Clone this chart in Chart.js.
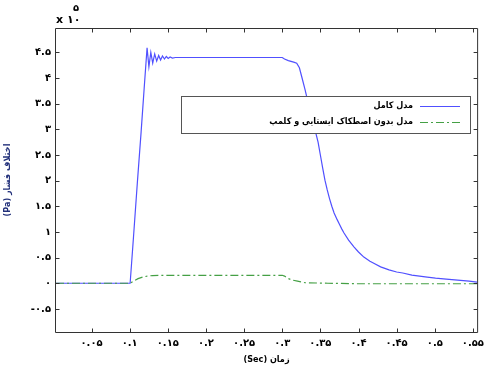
<!DOCTYPE html>
<html><head><meta charset="utf-8">
<script src="https://cdn.jsdelivr.net/npm/chart.js@4.4.0/dist/chart.umd.min.js"></script>
<style>html,body{margin:0;padding:0;background:#fff;} canvas{display:block;}</style>
</head><body>
<canvas id="c" width="489" height="368"></canvas>
<script>
// ---- data (pressure difference, x 10^5 Pa, vs time in s) ----
const blueX = [0.0034, 0.1, 0.1006, 0.105, 0.110, 0.115, 0.119, 0.1228, 0.1252, 0.1277, 0.1302, 0.1328, 0.1354, 0.138, 0.1405, 0.143, 0.1456, 0.148, 0.1505, 0.153, 0.156, 0.16, 0.20, 0.25, 0.30, 0.303, 0.308, 0.315, 0.319, 0.3225, 0.326, 0.330, 0.333, 0.336, 0.340, 0.343, 0.347, 0.350, 0.353, 0.356, 0.359, 0.362, 0.365, 0.368, 0.372, 0.375, 0.378, 0.381, 0.387, 0.394, 0.400, 0.407, 0.415, 0.42, 0.429, 0.44, 0.45, 0.458, 0.47, 0.48, 0.49, 0.501, 0.515, 0.53, 0.545, 0.5555];
const blueY = [0, 0, 0, 0.9, 1.95, 2.95, 3.8, 4.59, 4.22, 4.50, 4.29, 4.47, 4.33, 4.44, 4.35, 4.43, 4.37, 4.42, 4.38, 4.41, 4.39, 4.40, 4.40, 4.40, 4.40, 4.37, 4.34, 4.31, 4.29, 4.2, 4.0, 3.77, 3.58, 3.38, 3.15, 2.99, 2.75, 2.5, 2.25, 2.01, 1.82, 1.65, 1.5, 1.37, 1.24, 1.15, 1.06, 0.98, 0.84, 0.71, 0.61, 0.51, 0.43, 0.39, 0.32, 0.26, 0.22, 0.2, 0.16, 0.14, 0.12, 0.1, 0.08, 0.06, 0.04, 0.02];
const greenX = [0.0034, 0.1, 0.1006, 0.106, 0.111, 0.117, 0.123, 0.13, 0.14, 0.30, 0.303, 0.308, 0.314, 0.32, 0.33, 0.36, 0.40, 0.5555];
const greenY = [0, 0, 0, 0.05, 0.09, 0.12, 0.14, 0.15, 0.155, 0.155, 0.14, 0.09, 0.06, 0.04, 0.01, 0.0, -0.01, -0.01];
const seriesNames = ['مدل کامل', 'مدل بدون اصطکاک ایستایی و کلمپ'];
const xTicks = [0.05, 0.1, 0.15, 0.2, 0.25, 0.3, 0.35, 0.4, 0.45, 0.5, 0.55];
const xTickLabels = ['۰.۰۵', '۰.۱', '۰.۱۵', '۰.۲', '۰.۲۵', '۰.۳', '۰.۳۵', '۰.۴', '۰.۴۵', '۰.۵', '۰.۵۵'];
const yTicks = [-0.5, 0, 0.5, 1, 1.5, 2, 2.5, 3, 3.5, 4, 4.5];
const yTickLabels = ['-۰.۵', '۰', '۰.۵', '۱', '۱.۵', '۲', '۲.۵', '۳', '۳.۵', '۴', '۴.۵'];
const xTitle = '\u202Bزمان (Sec)\u202C';
const yTitle = '\u202Bاختلاف فشار (Pa)\u202C';

const FONT = "'DejaVu Sans', sans-serif";
const CFONT = "'DejaVu Sans Condensed', 'DejaVu Sans', sans-serif";
const toPts = (xs, ys) => xs.map((x, i) => ({x, y: ys[i]}));

const deco = {
  id: 'deco',
  afterDatasetsDraw(chart) {
    const {ctx, chartArea: a, scales} = chart;
    const L = a.left - 0.5, R = a.right + 0.5, T = a.top + 0.5, B = a.bottom + 0.5;
    ctx.save();
    ctx.strokeStyle = '#333';
    ctx.lineWidth = 1;
    ctx.beginPath();
    ctx.rect(L, T, R - L, B - T);
    const tl = 4;
    xTicks.forEach(v => {
      const p = Math.round(scales.x.getPixelForValue(v)) + 0.5;
      ctx.moveTo(p, B); ctx.lineTo(p, B - tl);
      ctx.moveTo(p, T); ctx.lineTo(p, T + tl);
    });
    yTicks.forEach(v => {
      const p = Math.round(scales.y.getPixelForValue(v)) + 0.5;
      ctx.moveTo(L, p); ctx.lineTo(L + tl, p);
      ctx.moveTo(R, p); ctx.lineTo(R - tl, p);
    });
    ctx.stroke();

    // multiplier label
    ctx.fillStyle = '#000';
    ctx.textBaseline = 'alphabetic';
    ctx.textAlign = 'left';
    ctx.font = 'bold 11px ' + FONT;
    ctx.fillText('x ۱۰', 56, 23);
    ctx.font = 'bold 10px ' + FONT;
    ctx.fillText('۵', 73, 11);

    // legend
    const lx = 181, ly = 96, lw = 289, lh = 37;
    ctx.fillStyle = '#fff';
    ctx.fillRect(lx, ly, lw, lh);
    ctx.strokeStyle = '#555';
    ctx.strokeRect(lx + 0.5, ly + 0.5, lw, lh);
    const rows = [106, 122];
    chart.data.datasets.forEach((ds, i) => {
      const y = rows[i] + 0.5;
      ctx.save();
      ctx.strokeStyle = ds.borderColor;
      ctx.lineWidth = ds.borderWidth;
      ctx.setLineDash(ds.borderDash || []);
      ctx.beginPath(); ctx.moveTo(420, y); ctx.lineTo(460, y); ctx.stroke();
      ctx.restore();
      ctx.fillStyle = '#000';
      ctx.font = 'bold 9px ' + CFONT;
      ctx.direction = 'rtl';
      ctx.textAlign = 'right';
      ctx.textBaseline = 'middle';
      ctx.fillText(ds.label, 413, rows[i]);
    });
    ctx.restore();
  }
};

new Chart(document.getElementById('c'), {
  type: 'line',
  data: {
    datasets: [
      {label: seriesNames[0], data: toPts(blueX, blueY), borderColor: '#5050ff', borderWidth: 1.2, pointRadius: 0, tension: 0, fill: false, order: 1},
      {label: seriesNames[1], data: toPts(greenX, greenY), borderColor: '#45a045', borderWidth: 1.2, borderDash: [8, 3, 2, 3], pointRadius: 0, tension: 0, fill: false, order: 0}
    ]
  },
  options: {
    responsive: false,
    animation: false,
    devicePixelRatio: 1,
    layout: {padding: {left: 0, right: 3, top: 28, bottom: 0}},
    plugins: {legend: {display: false}, tooltip: {enabled: false}},
    scales: {
      x: {
        type: 'linear', min: 0.0034, max: 0.5555,
        grid: {display: false, drawTicks: false},
        border: {display: false},
        afterBuildTicks: s => { s.ticks = xTicks.map(v => ({value: v})); },
        afterFit: s => { s.height = 36; },
        ticks: {padding: 5, color: '#000', font: {family: FONT, size: 10, weight: 'bold'}, maxRotation: 0, autoSkip: false,
          callback: (v, i) => xTickLabels[i]},
        title: {display: true, text: xTitle, color: '#000', font: {family: CFONT, size: 9, weight: 'bold'}, padding: {top: 0, bottom: 3}}
      },
      y: {
        type: 'linear', min: -0.95, max: 4.975,
        grid: {display: false, drawTicks: false},
        border: {display: false},
        afterBuildTicks: s => { s.ticks = yTicks.map(v => ({value: v})); },
        afterFit: s => { s.width = 56; },
        ticks: {padding: 5, color: '#000', font: {family: FONT, size: 10, weight: 'bold'}, autoSkip: false,
          callback: (v, i) => yTickLabels[i]},
        title: {display: true, text: yTitle, color: '#22307a', font: {family: CFONT, size: 9, weight: 'bold'}, padding: {top: 2, bottom: 0}}
      }
    }
  },
  plugins: [deco]
});
</script>
</body></html>
